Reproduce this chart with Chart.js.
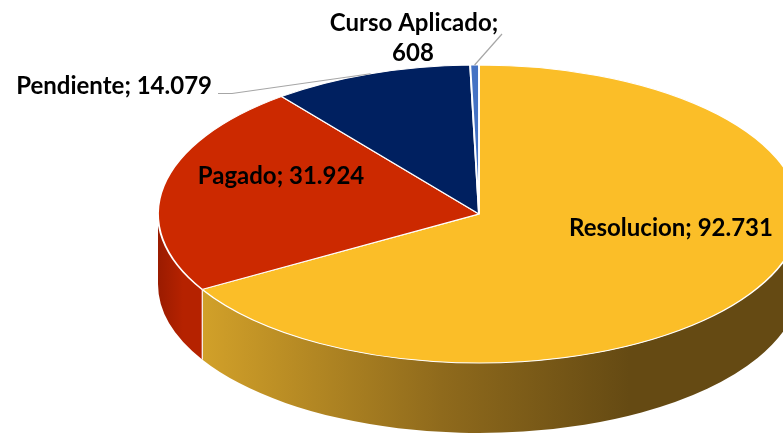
<!DOCTYPE html>
<html><head><meta charset="utf-8">
<script src="https://cdn.jsdelivr.net/npm/chart.js@4.4.0/dist/chart.umd.min.js"></script>
<style>html,body{margin:0;padding:0;background:#fff;overflow:hidden}#wrap{width:783px;height:436px}</style>
</head><body><div id="wrap"><canvas id="c" width="783" height="436"></canvas></div>
<script>
const categories = ['Resolucion', 'Pagado', 'Pendiente', 'Curso Aplicado'];
const values = [92731, 31924, 14079, 608];
const valueLabels = ['92.731', '31.924', '14.079', '608'];
const topColors = ['#FBBE28', '#CC2900', '#002060', '#4472C4'];
const sideColors = ['#D6A42A', '#B02000', '#001848', '#34589A'];

const GEO = { cx: 479, cy: 214, rx: 321, ry: 149, depth: 70 };

function ell(t, dy) { return [GEO.cx + GEO.rx * Math.cos(t), GEO.cy + GEO.ry * Math.sin(t) + (dy || 0)]; }

const pie3d = {
  id: 'pie3d',
  beforeDatasetsDraw(chart) {
    const ctx = chart.ctx;
    const meta = chart.getDatasetMeta(0);
    const { cx, cy, rx, ry, depth } = GEO;
    meta.data.forEach((arc, i) => {
      const a = arc.startAngle, b = arc.endAngle;
      for (const off of [0, 2 * Math.PI, -2 * Math.PI]) {
        const s = Math.max(a, off), e = Math.min(b, off + Math.PI);
        if (e <= s) continue;
        ctx.save();
        ctx.beginPath();
        ctx.ellipse(cx, cy, rx, ry, 0, s, e, false);
        ctx.ellipse(cx, cy + depth, rx, ry, 0, e, s, true);
        ctx.closePath();
        let fill = sideColors[i];
        if (i === 0) {
          const g = ctx.createLinearGradient(cx - rx, 0, cx + rx * 0.47, 0);
          g.addColorStop(0, '#DCAA2C');
          g.addColorStop(0.06, '#D6A42A');
          g.addColorStop(0.6, '#8F6A1C');
          g.addColorStop(1, '#654A13');
          fill = g;
        } else if (i === 1) {
          const g = ctx.createLinearGradient(cx - rx, 0, cx - rx + 25, 0);
          g.addColorStop(0, '#9A1B00');
          g.addColorStop(1, '#B52200');
          fill = g;
        }
        ctx.fillStyle = fill;
        ctx.fill();
        ctx.strokeStyle = '#ffffff';
        ctx.lineWidth = 1;
        [s, e].forEach(t => {
          if (Math.abs(Math.sin(t)) > 0.05) {
            const p = ell(t), q = ell(t, depth);
            ctx.beginPath(); ctx.moveTo(p[0], p[1]); ctx.lineTo(q[0], q[1]); ctx.stroke();
          }
        });
        ctx.restore();
      }
    });
    const arc0 = meta.data[0];
    const R = arc0.outerRadius;
    ctx.save();
    ctx.translate(cx, cy);
    ctx.scale(rx / R, ry / R);
    ctx.translate(-arc0.x, -arc0.y);
  },
  afterDatasetsDraw(chart) {
    chart.ctx.restore();
  },
  afterDraw(chart) {
    const ctx = chart.ctx;
    const meta = chart.getDatasetMeta(0);
    const mid = i => (meta.data[i].startAngle + meta.data[i].endAngle) / 2;
    ctx.save();
    ctx.strokeStyle = '#A6A6A6';
    ctx.lineWidth = 1.2;
    let p = ell(mid(2));
    ctx.beginPath(); ctx.moveTo(p[0], p[1]); ctx.lineTo(232, 93.5); ctx.lineTo(218, 93.5); ctx.stroke();
    p = ell(mid(3));
    ctx.beginPath(); ctx.moveTo(p[0], p[1]); ctx.lineTo(502, 34); ctx.stroke();

    ctx.fillStyle = '#000';
    ctx.font = 'bold 24px Lato';
    ctx.textBaseline = 'middle';
    ctx.textAlign = 'center';
    ctx.fillText(categories[0] + '; ' + valueLabels[0], 671, 228);
    ctx.fillText(categories[1] + '; ' + valueLabels[1], 281, 176);
    ctx.textAlign = 'right';
    ctx.fillText(categories[2] + '; ' + valueLabels[2], 212, 86);
    ctx.textAlign = 'center';
    ctx.fillText(categories[3] + ';', 414, 23);
    ctx.fillText(valueLabels[3], 413, 53);
    ctx.restore();
  }
};

new Chart(document.getElementById('c'), {
  type: 'pie',
  data: {
    labels: categories,
    datasets: [{ data: values, backgroundColor: topColors, borderColor: '#ffffff', borderWidth: 1.3, clip: false }]
  },
  options: {
    responsive: false,
    animation: false,
    events: [],
    layout: { padding: 0 },
    plugins: { legend: { display: false }, tooltip: { enabled: false } }
  },
  plugins: [pie3d]
});
</script>
</body></html>
